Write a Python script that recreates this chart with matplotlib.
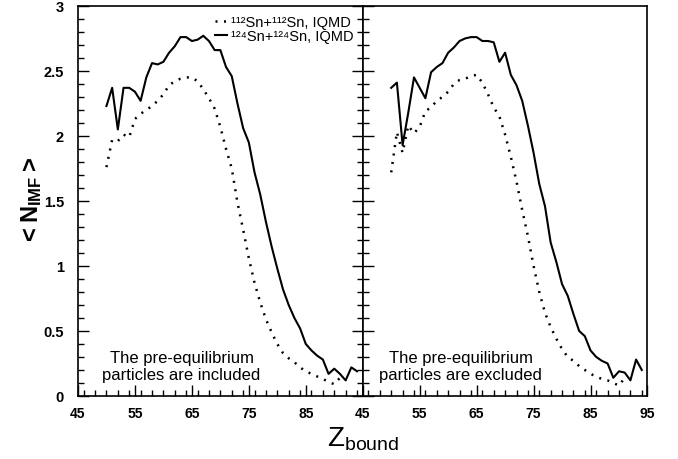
import matplotlib
matplotlib.use("Agg")
import matplotlib.pyplot as plt
from matplotlib.ticker import MultipleLocator

plt.rcParams['font.family'] = ['Liberation Sans', 'DejaVu Sans']
plt.rcParams['mathtext.fontset'] = 'custom'
plt.rcParams['mathtext.rm'] = 'Liberation Sans'
plt.rcParams['mathtext.bf'] = 'Liberation Sans:bold'

# Z_bound values (integer bins)
z_solid = list(range(50, 95))
z_dotted = list(range(50, 92))

# pre-equilibrium particles included
left_sn124 = [2.23, 2.37, 2.05, 2.37, 2.37, 2.34, 2.27, 2.45, 2.56, 2.55,
              2.57, 2.64, 2.69, 2.76, 2.76, 2.73, 2.74, 2.77, 2.73, 2.66,
              2.66, 2.53, 2.46, 2.25, 2.06, 1.95, 1.72, 1.55, 1.34, 1.15,
              0.98, 0.82, 0.70, 0.60, 0.52, 0.40, 0.35, 0.31, 0.28, 0.17,
              0.21, 0.17, 0.12, 0.22, 0.19]
left_sn112 = [1.76, 1.97, 1.96, 2.01, 1.99, 2.13, 2.17, 2.20, 2.23, 2.27,
              2.32, 2.39, 2.42, 2.44, 2.45, 2.45, 2.42, 2.36, 2.29, 2.21,
              2.07, 1.90, 1.75, 1.49, 1.28, 1.06, 0.87, 0.72, 0.59, 0.49,
              0.40, 0.33, 0.29, 0.26, 0.22, 0.19, 0.17, 0.15, 0.13, 0.11,
              0.09, 0.14]

# pre-equilibrium particles excluded
right_sn124 = [2.37, 2.41, 1.93, 2.18, 2.45, 2.37, 2.29, 2.49, 2.53, 2.56,
               2.64, 2.68, 2.73, 2.75, 2.76, 2.76, 2.73, 2.73, 2.72, 2.57,
               2.64, 2.47, 2.39, 2.27, 2.08, 1.87, 1.63, 1.46, 1.18, 1.03,
               0.86, 0.77, 0.63, 0.50, 0.46, 0.35, 0.30, 0.27, 0.25, 0.14,
               0.19, 0.18, 0.12, 0.28, 0.20]
right_sn112 = [1.72, 2.03, 1.87, 2.08, 2.02, 2.07, 2.19, 2.22, 2.27, 2.30,
               2.34, 2.40, 2.43, 2.44, 2.46, 2.47, 2.41, 2.32, 2.22, 2.15,
               2.01, 1.84, 1.65, 1.43, 1.23, 1.00, 0.80, 0.64, 0.53, 0.44,
               0.36, 0.30, 0.27, 0.23, 0.20, 0.17, 0.15, 0.13, 0.12, 0.10,
               0.08, 0.14]

xticks_major = [45, 55, 65, 75, 85, 95]
left_xlabels = ['45', '55', '65', '75', '85', '']
right_xlabels = ['45', '55', '65', '75', '85', '95']
yticks_major = [0, 0.5, 1, 1.5, 2, 2.5, 3]
ytick_labels = ['0', '0.5', '1', '1.5', '2', '2.5', '3']

label_112 = '\u00b9\u00b9\u00b2Sn+\u00b9\u00b9\u00b2Sn, IQMD'
label_124 = '\u00b9\u00b2\u2074Sn+\u00b9\u00b2\u2074Sn, IQMD'
dotted = (0, (0.8, 2.6))

fig = plt.figure(figsize=(6.78, 4.60), dpi=100)
ax1 = fig.add_axes([0.115, 0.137, 0.420, 0.848])
ax2 = fig.add_axes([0.535, 0.137, 0.420, 0.848], sharey=ax1)

panels = [
    (ax1, left_sn112, left_sn124, left_xlabels, 'The pre-equilibrium\nparticles are included', 63.2),
    (ax2, right_sn112, right_sn124, right_xlabels, 'The pre-equilibrium\nparticles are excluded', 62.2),
]

for ax, d112, d124, xlabels, note, note_x in panels:
    ax.plot(z_dotted, d112, color='black', lw=1.8, linestyle=dotted,
            dash_capstyle='butt', label=label_112)
    ax.plot(z_solid, d124, color='black', lw=1.5, label=label_124)

    ax.set_xlim(45, 95)
    ax.set_ylim(0, 3)
    ax.set_xticks(xticks_major)
    ax.set_xticklabels(xlabels, fontweight='bold', fontsize=10)
    ax.xaxis.set_minor_locator(MultipleLocator(2))
    ax.yaxis.set_minor_locator(MultipleLocator(0.1))
    ax.tick_params(axis='x', which='major', direction='in', length=8, width=1, pad=7, top=False)
    ax.tick_params(axis='x', which='minor', direction='in', length=4, width=1, top=False)

    ax.text(note_x, 0.23, note, ha='center', va='center', fontsize=12, linespacing=1.1)

    for sp in ax.spines.values():
        sp.set_linewidth(1.2)

ax1.set_yticks(yticks_major)
ax1.set_yticklabels(ytick_labels, fontweight='bold', fontsize=10.5)
ax1.tick_params(axis='y', which='major', direction='in', length=8, width=1, left=True, right=True, pad=10)
ax1.tick_params(axis='y', which='minor', direction='in', length=4, width=1, left=True, right=True)
ax2.tick_params(axis='y', which='major', direction='in', length=8, width=1, left=True, right=False, labelleft=False)
ax2.tick_params(axis='y', which='minor', direction='in', length=4, width=1, left=True, right=False)

ax1.legend(loc='upper right', frameon=False, fontsize=10.5, handlelength=0.8,
           handletextpad=0.25, labelspacing=0.0, borderaxespad=0.3,
           borderpad=0.35)

ax1.set_ylabel(r'$\mathbf{<N_{IMF}>}$', fontsize=17, labelpad=0)
fig.text(0.535, 0.045, r'Z$_{\rm bound}$', ha='center', va='center', fontsize=20)

fig.savefig('out.png', dpi=100)
